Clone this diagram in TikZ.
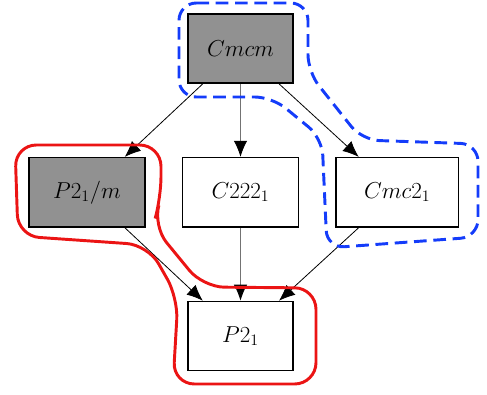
\documentclass[tikz,border=0pt]{standalone}
\usetikzlibrary{arrows.meta,positioning}
\definecolor{setblue}{RGB}{20,60,250}
\definecolor{setred}{RGB}{235,20,20}
\begin{document}
\begin{tikzpicture}[x=0.75pt, y=-0.75pt, node distance=54.75pt and 27pt, >={Latex[length=12pt,width=10pt]},
box/.style = {draw, rectangle, minimum height=52pt, minimum width=87pt, align=center, line width=1.1pt, font=\fontsize{16.5}{19}\selectfont},
gbox/.style = {box, fill=black!43},
link/.style = {->, line width=0.6pt},
glink/.style = {-{Latex[length=12pt,width=10pt,color=black]}, line width=0.7pt, draw=black!55},
blueset/.style = {draw=setblue, line width=2.2pt, dash pattern=on 9.5pt off 5pt, rounded corners=13pt},
redset/.style = {draw=setred, line width=2.2pt, rounded corners=16pt},
                    ]
    \useasboundingbox (0,0) rectangle (487,395);
    \node [gbox, minimum width=79pt]       at (240.5,48.5) (cmcm){$Cmcm$};
    \node [box, below=of cmcm]             (c2221){$C222_1$};
    \node [gbox, left=of c2221]            (p21m){$P2_1/m$};
    \node [box, right=of c2221, minimum width=92pt] (cmc21){$Cmc2_1$};
    \node [box, below=of c2221, minimum width=79pt] (p21){$P2_1$};
    \draw[link]  (cmcm)  -- (p21m);
    \draw[glink] (cmcm)  -- (c2221);
    \draw[link]  (cmcm)  -- (cmc21);
    \draw[link]  (p21m)  -- (p21);
    \draw[glink] (c2221) -- (p21);
    \draw[link]  (cmc21) -- (p21);
    % subgroup outlines
    \draw[blueset] (179,3) -- (308,3) -- (308,72) -- (362,140) -- (478,144)
      -- (478,237) -- (327,248) -- (322,138) -- (272,97) -- (179,97) -- cycle;
    \draw[redset] (15,145) -- (161,145) -- (161,198) -- (153,226) -- (203,287)
      -- (316,288) -- (316,384) -- (173,384) -- (178,298) -- (148,245)
      -- (18,236) -- cycle;
\end{tikzpicture}
\end{document}
